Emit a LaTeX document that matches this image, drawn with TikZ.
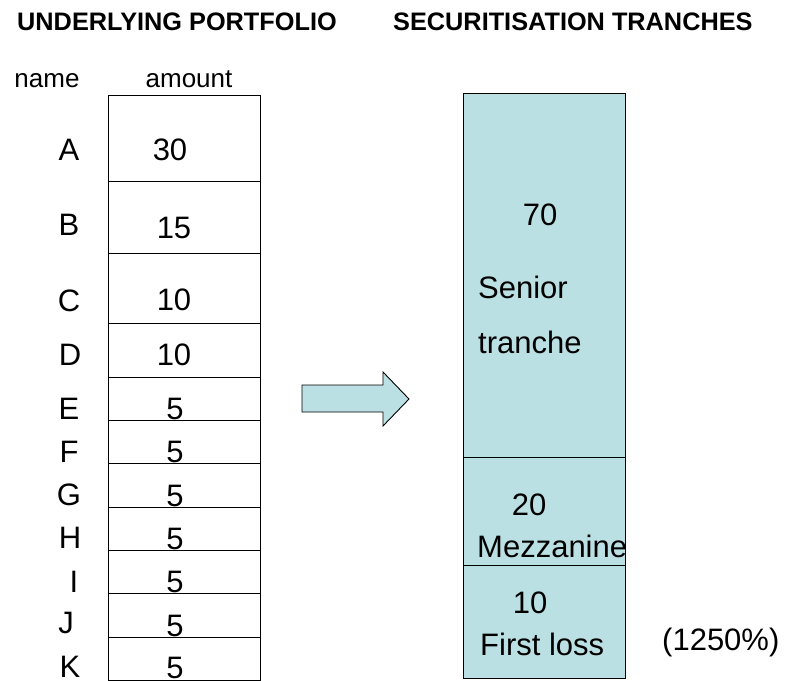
\documentclass[tikz,border=0pt]{standalone}
\usepackage{fontspec}
\setmainfont{Liberation Sans}
\definecolor{tranchefill}{HTML}{BBE0E3}
\begin{document}
\begin{tikzpicture}[x=1pt,y=-1pt,
  big/.style={font=\fontsize{31}{36}\selectfont, inner sep=0pt},
  small/.style={font=\fontsize{26}{30}\selectfont, inner sep=0pt},
  head/.style={font=\bfseries\fontsize{25.3}{30}\selectfont, inner sep=0pt},
  cell/.style={draw=black, line width=0.9pt, minimum width=152pt, inner sep=0pt, anchor=north west},
  tranche/.style={draw=black, line width=0.9pt, fill=tranchefill, minimum width=162pt, inner sep=0pt, anchor=north west}]
\useasboundingbox (0,0) rectangle (794,680);

% headings
\node[head, anchor=base west] (h1) at (17,30) {UNDERLYING PORTFOLIO};
\node[head, anchor=base west] (h2) at (393,30) {SECURITISATION TRANCHES};
\node[small, anchor=base] (hname) at (47,87) {name};
\node[small, anchor=base] (hamount) at (189,87) {amount};

% left table cells
\node[cell, minimum height=86pt] (cA) at (108,95) {};
\node[cell, minimum height=72pt] (cB) at (108,181) {};
\node[cell, minimum height=70pt] (cC) at (108,253) {};
\node[cell, minimum height=54pt] (cD) at (108,323) {};
\node[cell, minimum height=43pt] (cE) at (108,377) {};
\node[cell, minimum height=43pt] (cF) at (108,420) {};
\node[cell, minimum height=44pt] (cG) at (108,463) {};
\node[cell, minimum height=43pt] (cH) at (108,507) {};
\node[cell, minimum height=43pt] (cI) at (108,550) {};
\node[cell, minimum height=44pt] (cJ) at (108,593) {};
\node[cell, minimum height=42.5pt] (cK) at (108,637) {};

% names
\node[big, anchor=base] (nA) at (69,160) {A};
\node[big, anchor=base] (nB) at (69,235) {B};
\node[big, anchor=base] (nC) at (69,311) {C};
\node[big, anchor=base] (nD) at (70,365) {D};
\node[big, anchor=base] (nE) at (69,419) {E};
\node[big, anchor=base] (nF) at (69,462) {F};
\node[big, anchor=base] (nG) at (69,505) {G};
\node[big, anchor=base] (nH) at (70,548) {H};
\node[big, anchor=base] (nI) at (74,592) {I};
\node[big, anchor=base] (nJ) at (66,633) {J};
\node[big, anchor=base] (nK) at (70,677) {K};

% amounts
\node[big, anchor=base] (aA) at (170,160) {30};
\node[big, anchor=base] (aB) at (174,238) {15};
\node[big, anchor=base] (aC) at (174,310) {10};
\node[big, anchor=base] (aD) at (174,365) {10};
\node[big, anchor=base] (aE) at (175,419) {5};
\node[big, anchor=base] (aF) at (175,462) {5};
\node[big, anchor=base] (aG) at (175,506) {5};
\node[big, anchor=base] (aH) at (175,549) {5};
\node[big, anchor=base] (aI) at (175,592) {5};
\node[big, anchor=base] (aJ) at (175,636) {5};
\node[big, anchor=base] (aK) at (175,678) {5};

% arrow
\draw[line width=0.9pt, fill=tranchefill, line join=miter]
  (302,385) -- (383,385) -- (383,372) -- (409,399) -- (383,426) -- (383,412) -- (302,412) -- cycle;

% tranches
\node[tranche, minimum height=364pt] (tS) at (463,93) {};
\node[tranche, minimum height=108pt] (tM) at (463,457) {};
\node[tranche, minimum height=113pt] (tF) at (463,565) {};

\node[big, anchor=base] (v70) at (540,225) {70};
\node[big, anchor=base west] (lS1) at (478,298) {Senior};
\node[big, anchor=base west] (lS2) at (478,353) {tranche};
\node[big, anchor=base] (v20) at (529,515) {20};
\node[big, anchor=base west] (lM) at (477,557) {Mezzanine};
\node[big, anchor=base] (v10) at (530,613) {10};
\node[big, anchor=base west] (lF) at (480,655) {First loss};
\node[big, anchor=base west] (pct) at (662,650) {(1250\%)};
\end{tikzpicture}
\end{document}
